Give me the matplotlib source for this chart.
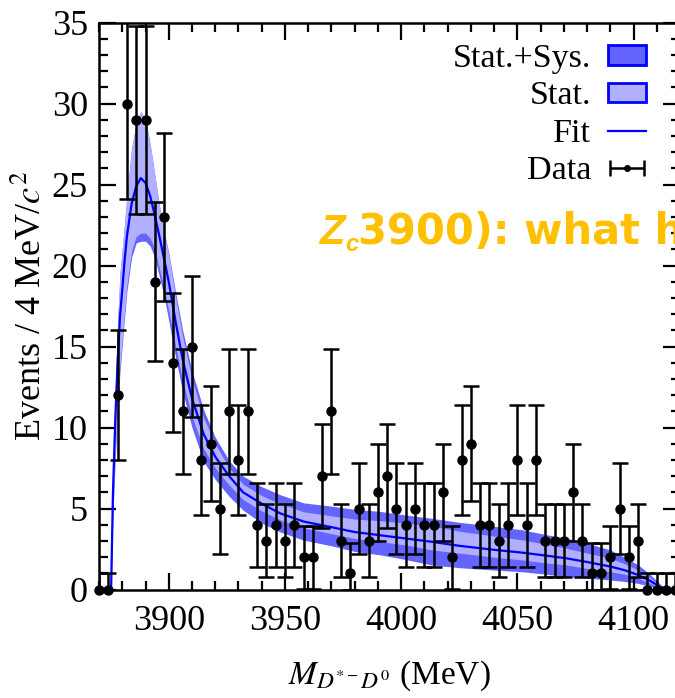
import numpy as np
import matplotlib
matplotlib.use("Agg")
import matplotlib.pyplot as plt
from matplotlib.patches import Rectangle
from matplotlib.ticker import MultipleLocator

plt.rcParams["font.family"] = "Liberation Serif"
plt.rcParams["mathtext.fontset"] = "stix"

# data points (4 MeV bins)
mass = [3870 + 4 * i for i in range(63)]
counts = [0, 0, 12, 30, 29, 29, 19, 23, 14, 11,
          15, 8, 9, 5, 11, 8, 11, 4, 3, 4,
          3, 4, 2, 2, 7, 11, 3, 1, 5, 3,
          6, 7, 5, 4, 5, 4, 4, 6, 2, 8,
          9, 4, 4, 3, 4, 8, 4, 8, 3, 3,
          3, 6, 3, 1, 1, 2, 5, 2, 3, 0,
          0, 0, 0]
err = [1.0, 1.0, 4.0, 5.9, 5.8, 5.8, 4.9, 5.2, 4.3, 3.85,
       4.35, 3.4, 3.55, 2.8, 3.85, 3.4, 3.85, 2.6, 2.25, 2.6,
       2.25, 2.6, 1.95, 1.95, 3.2, 3.85, 2.25, 1.9, 2.8, 2.25,
       3.0, 3.2, 2.8, 2.6, 2.8, 2.6, 2.6, 3.0, 1.95, 3.4,
       3.55, 2.6, 2.6, 2.25, 2.6, 3.4, 2.6, 3.4, 2.25, 2.25,
       2.25, 3.0, 2.25, 1.9, 1.9, 1.95, 2.8, 1.95, 2.25, 1.0,
       1.0, 1.0, 1.0]

# fit curve and bands
fit_m = [3875.2, 3876, 3877, 3878, 3879, 3880, 3881, 3882, 3884, 3886,
         3888, 3890, 3892, 3894, 3896, 3898, 3900, 3903, 3906, 3910,
         3915, 3920, 3926, 3932, 3940, 3948, 3958, 3970, 3980, 3991,
         4002, 4013, 4025, 4040, 4052, 4062, 4071, 4080, 4090, 4096,
         4102, 4107, 4111, 4114]
fit = [0, 6, 10.5, 14, 16.8, 18.5, 20.3, 21.8, 23.8, 24.9,
       25.4, 25.1, 24.3, 23.1, 21.8, 20.4, 19.0, 16.5, 14.2, 11.8,
       9.6, 8.2, 7.0, 6.0, 5.3, 4.7, 4.2, 3.85, 3.55, 3.35,
       3.15, 2.95, 2.7, 2.45, 2.28, 2.1, 1.93, 1.7, 1.42, 1.2,
       0.9, 0.55, 0.2, 0]
stat_hi = [0, 7.5, 12.5, 16.5, 19.5, 21, 22.6, 24.3, 27.2, 28.8,
           29.5, 29.0, 27.5, 25.6, 23.7, 22.1, 20.7, 18.0, 15.6, 13.0,
           10.6, 9.0, 7.5, 6.5, 5.8, 5.3, 4.8, 4.55, 4.35, 4.25,
           4.1, 3.93, 3.6, 3.3, 3.07, 2.8, 2.55, 2.25, 1.93, 1.6,
           1.2, 0.75, 0.3, 0]
stat_lo = [0, 5, 8.5, 11.5, 13.8, 15.5, 17.2, 18.8, 20.9, 21.8,
           22.0, 22.0, 21.7, 21.0, 19.8, 18.6, 17.2, 15.0, 12.9, 10.7,
           8.7, 7.5, 6.45, 5.55, 4.85, 4.3, 3.8, 3.45, 3.15, 2.95,
           2.75, 2.45, 2.25, 2.0, 1.83, 1.65, 1.52, 1.3, 1.1, 0.95,
           0.7, 0.4, 0.1, 0]
tot_hi = [0, 7.5, 12.5, 16.5, 19.5, 21, 22.6, 24.3, 27.2, 28.8,
          29.5, 29.0, 27.5, 25.6, 23.7, 22.1, 20.8, 18.3, 16.0, 13.5,
          11.1, 9.4, 7.95, 7.0, 6.35, 5.85, 5.35, 5.15, 4.95, 4.82,
          4.6, 4.4, 4.15, 3.9, 3.69, 3.4, 3.17, 2.85, 2.45, 2.0,
          1.52, 0.95, 0.4, 0]
tot_lo = [0, 4.7, 8.1, 11.1, 13.4, 15.1, 16.8, 18.4, 20.5, 21.4,
          21.5, 21.5, 21.2, 20.5, 19.3, 18.1, 16.6, 14.3, 12.2, 10.0,
          7.9, 6.8, 5.75, 4.9, 4.1, 3.55, 3.05, 2.7, 2.35, 2.14,
          1.85, 1.52, 1.35, 1.2, 1.1, 0.95, 0.8, 0.7, 0.59, 0.5,
          0.38, 0.2, 0.05, 0]

dark = "#6464ff"
light = "#b0b0ff"

fig = plt.figure(figsize=(6.75, 6.98), dpi=100)
ax = fig.add_axes([0.1467, 0.1554, 0.8607, 0.8123])

ax.fill_between(fit_m, tot_lo, tot_hi, color=dark, lw=0, zorder=1)
ax.fill_between(fit_m, stat_lo, stat_hi, color=light, lw=0, zorder=2)
ax.plot(fit_m, fit, color="#0000ff", lw=1.6, zorder=3)

counts_a = np.array(counts, dtype=float)
err_a = np.array(err)
lo = np.minimum(err_a, counts_a)
ax.errorbar(mass, counts, yerr=[lo, err_a], fmt="none", ecolor="black",
            elinewidth=1.8, capsize=5.5, capthick=1.8, zorder=4)
ax.plot(mass, counts, "o", color="black", ms=6.5, clip_on=False, zorder=5)

ax.set_xlim(3870, 4120)
ax.set_ylim(0, 35)
ax.xaxis.set_major_locator(MultipleLocator(50))
ax.xaxis.set_minor_locator(MultipleLocator(10))
ax.yaxis.set_major_locator(MultipleLocator(5))
ax.yaxis.set_minor_locator(MultipleLocator(1))
ax.tick_params(which="both", direction="in", top=True, right=True,
               width=1.6, labelsize=26)
ax.tick_params(which="major", length=12)
ax.tick_params(which="minor", length=6.5)
ax.tick_params(axis="x", pad=11)
ax.tick_params(axis="y", pad=8)
for s in ax.spines.values():
    s.set_linewidth(1.8)

ax.set_xlabel(r"$M_{D^{*-}D^{0}}$ (MeV)", fontsize=24, labelpad=15)
ax.set_ylabel(r"Events / 4 MeV/$c^{2}$", fontsize=26, labelpad=2)

# legend
h1 = Rectangle((0, 0), 1, 1, facecolor=dark, edgecolor="#0000ff", lw=2)
h2 = Rectangle((0, 0), 1, 1, facecolor=light, edgecolor="#0000ff", lw=2)
h3, = ax.plot([], [], color="#0000ff", lw=1.6)
h4 = ax.errorbar([np.nan], [np.nan], xerr=[1], fmt="o", color="black", ms=4,
                 elinewidth=1.8, capsize=6, capthick=1.8)
ax.legend([h1, h2, h3, h4], ["Stat.+Sys.", "Stat.", "Fit", "Data"],
          loc="upper right", frameon=False, markerfirst=False, fontsize=24.5,
          handlelength=1.1, handleheight=0.5, handletextpad=0.5,
          labelspacing=0.2, borderaxespad=0.1, bbox_to_anchor=(0.97, 0.993))

# orange slide-title overlay
orange = "#ffc000"
fig.text(320 / 675, 1 - 244 / 698, "Z", color=orange, fontsize=30,
         family="Liberation Sans", weight="bold", style="italic", va="baseline")
fig.text(345 / 675, 1 - 251 / 698, "c", color=orange, fontsize=17,
         family="Liberation Sans", weight="bold", style="italic", va="baseline")
fig.text(358 / 675, 1 - 244 / 698, "3900): what h", color=orange, fontsize=30,
         family="DejaVu Sans", weight="bold", va="baseline")

fig.savefig("out.png", dpi=100)
